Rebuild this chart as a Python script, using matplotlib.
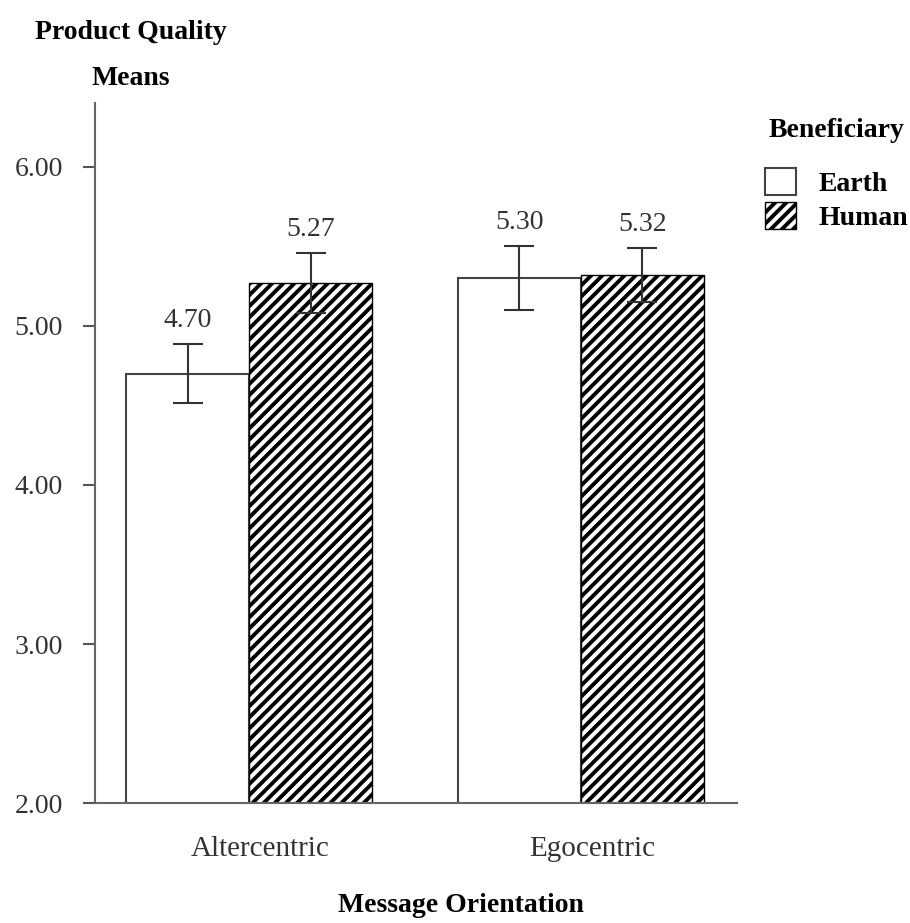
import numpy as np
import matplotlib
matplotlib.use('Agg')
import matplotlib.pyplot as plt
from matplotlib.patches import Patch

groups = ["Altercentric", "Egocentric"]
series = ["Earth", "Human"]
earth_means = [4.70, 5.30]
human_means = [5.27, 5.32]
earth_err = [0.185, 0.20]
human_err = [0.19, 0.17]
yticks = [2.0, 3.0, 4.0, 5.0, 6.0]

plt.rcParams['font.family'] = ['Liberation Serif', 'DejaVu Serif']
plt.rcParams['hatch.linewidth'] = 2.8
plt.rcParams['hatch.color'] = 'black'

fig = plt.figure(figsize=[9.1, 9.23], dpi=100)
ax = fig.add_axes([0.104, 0.130, 0.706, 0.758])

x = np.arange(len(groups))
w = 0.371
edge = '#444444'
hatch = '///'

ax.bar(x - w / 2, earth_means, w, color='white', edgecolor=edge, linewidth=1.5, zorder=2)
ax.bar(x + w / 2, human_means, w, color='white', edgecolor='black', hatch=hatch, linewidth=1.0, zorder=2)

ax.errorbar(x - w / 2, earth_means, yerr=earth_err, fmt='none', ecolor='#333333',
            elinewidth=1.5, capsize=11, capthick=1.5, zorder=3)
ax.errorbar(x + w / 2, human_means, yerr=human_err, fmt='none', ecolor='#333333',
            elinewidth=1.5, capsize=11, capthick=1.5, zorder=3)

for xi, m, e in zip(x - w / 2, earth_means, earth_err):
    ax.text(xi, m + e + 0.07, "%.2f" % m, ha='center', va='bottom', fontsize=20, color='#333333')
for xi, m, e in zip(x + w / 2, human_means, human_err):
    ax.text(xi, m + e + 0.07, "%.2f" % m, ha='center', va='bottom', fontsize=20, color='#333333')

ax.set_xlim(-0.466, 1.471)
ax.set_ylim(2.0, 6.4)
ax.set_yticks(yticks)
ax.set_yticklabels(["%.2f" % t for t in yticks], fontsize=20, color='#333333')
ax.set_xticks(x + 0.033)
ax.set_xticklabels(groups, fontsize=21, color='#333333')
ax.tick_params(axis='x', length=0, pad=24)
ax.tick_params(axis='y', length=9, width=1.5, color='#555555', pad=14)

for s in ['top', 'right']:
    ax.spines[s].set_visible(False)
for s in ['left', 'bottom']:
    ax.spines[s].set_color('#666666')
    ax.spines[s].set_linewidth(1.5)

fig.text(0.038, 0.965, "Product Quality", fontsize=20, fontweight='bold', ha='left', va='center')
fig.text(0.144, 0.915, "Means", fontsize=20, fontweight='bold', ha='center', va='center')
fig.text(0.507, 0.019, "Message Orientation", fontsize=20, fontweight='bold', ha='center', va='center')

handles = [Patch(facecolor='white', edgecolor=edge, linewidth=1.5),
           Patch(facecolor='white', edgecolor='black', hatch=hatch, linewidth=1.0)]
leg = fig.legend(handles, series, loc='upper left', bbox_to_anchor=(0.841, 0.872),
                 frameon=False, title="Beneficiary", fontsize=20,
                 handlelength=1.1, handleheight=1.1, handletextpad=0.8,
                 labelspacing=0.2, borderaxespad=0, borderpad=0)
leg.get_title().set_fontweight('bold')
leg.get_title().set_fontsize(20)
leg._legend_box.sep = 18
for t in leg.get_texts():
    t.set_fontweight('bold')

fig.savefig('out.png', dpi=100)
